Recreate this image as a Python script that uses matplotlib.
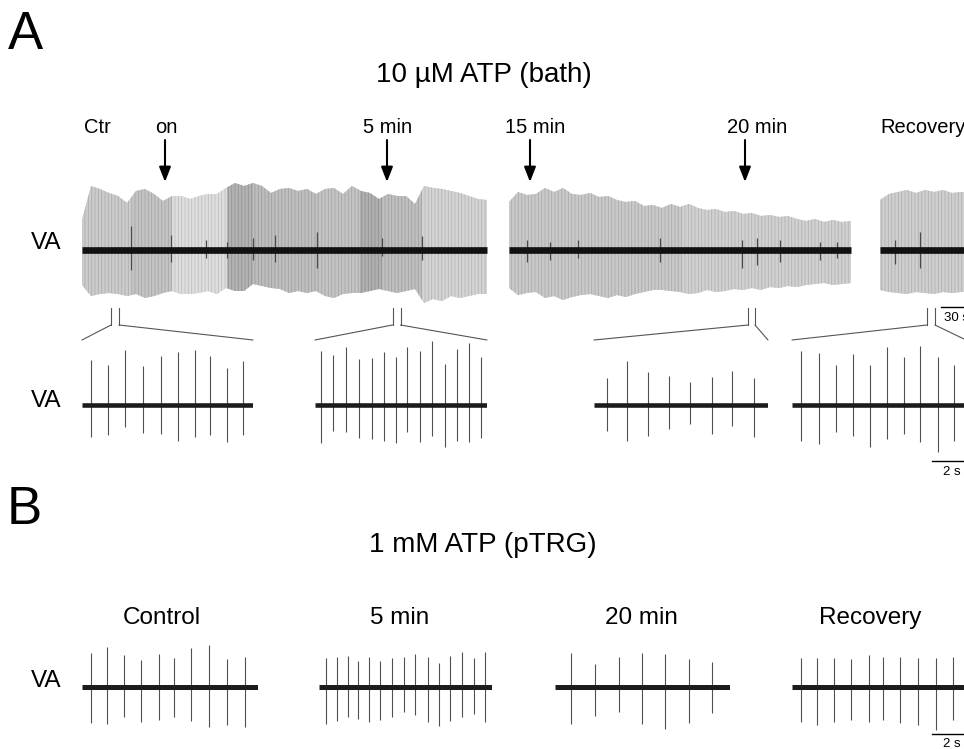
import numpy as np
import matplotlib
matplotlib.use("Agg")
import matplotlib.pyplot as plt
from matplotlib.patches import ConnectionPatch, Polygon

plt.rcParams['font.family'] = ['Liberation Sans', 'DejaVu Sans']
plt.rcParams['hatch.linewidth'] = 0.6

# ---------------------------------------------------------------- data
# Panel A, long recording: envelope of VA nerve activity (a.u.), sampled every 9 s
env_dt = 9.0
seg_t0 = [0, 427, 798]
seg1_up = [30, 64, 61, 57, 54, 47, 59, 61, 56, 49, 54, 54, 51, 54, 56, 56, 62, 67, 64, 67,
           64, 57, 61, 62, 59, 61, 56, 61, 62, 56, 64, 59, 57, 51, 56, 54, 54, 46, 64, 62,
           61, 59, 57, 54, 51, 50]
seg1_dn = [35, 46, 44, 43, 44, 46, 44, 48, 46, 43, 41, 44, 44, 43, 41, 44, 38, 41, 41, 34,
           36, 38, 39, 43, 41, 43, 41, 46, 48, 44, 43, 43, 41, 39, 41, 43, 41, 39, 53, 49,
           51, 46, 48, 46, 44, 44]
seg2_up = [48, 58, 55, 56, 62, 58, 62, 56, 55, 57, 53, 54, 50, 48, 49, 44, 45, 42, 46, 43,
           46, 42, 40, 41, 38, 39, 36, 37, 34, 35, 33, 34, 31, 29, 31, 28, 30, 28, 29]
seg2_dn = [38, 45, 43, 42, 48, 46, 50, 47, 45, 44, 46, 48, 45, 47, 44, 42, 40, 40, 41, 42,
           44, 43, 40, 42, 41, 39, 40, 38, 40, 37, 38, 36, 37, 35, 34, 33, 35, 34, 33]
seg3_up = [50, 56, 58, 60, 57, 60, 58, 60, 57, 58, 58, 58]
seg3_dn = [40, 42, 43, 44, 42, 43, 44, 42, 43, 42, 42, 42]

# burst boundaries (s) and grey level of the overlapping spikes within each burst
seg1_bursts = [0, 50, 90, 145, 171, 193, 236, 278, 300, 340, 405]
seg1_shade = [0.80, 0.77, 0.87, 0.70, 0.74, 0.75, 0.77, 0.69, 0.75, 0.83]
seg2_bursts = [427, 600, 772]
seg2_shade = [0.79, 0.82]
seg3_bursts = [798, 900]
seg3_shade = [0.81]

# darker large units in the long recording: time (s), up, down
dark1_t = [49, 89, 124, 145, 171, 193, 235, 300, 340]
dark1_up = [24, 15, 10, 8, 12, 15, 18, 12, 14]
dark1_dn = [20, 12, 8, 8, 10, 12, 18, 6, 10]
dark2_t = [445, 468, 496, 578, 660, 675, 698, 738, 755]
dark2_up = [10, 8, 10, 12, 10, 12, 10, 8, 8]
dark2_dn = [12, 10, 8, 12, 18, 15, 12, 10, 8]
dark3_t = [813, 838]
dark3_up = [10, 18]
dark3_dn = [14, 18]

event_t = [83, 305, 448, 663]
event_lab = ["on", "5 min", "15 min", "20 min"]
event_lab_t = [84, 306, 453, 675]
zoom_win = [(29, 37), (310.5, 318.5), (666, 673), (845, 853)]

# Panel A, expanded sweeps: spike time (s), upward and downward amplitude
a_dur = [8.55, 8.6, 8.7, 8.7]
a1_t = [0.43, 1.28, 2.15, 3.07, 3.94, 4.82, 5.65, 6.42, 7.25, 8.07]
a1_up = [45, 40, 55, 39, 49, 53, 55, 49, 37, 44]
a1_dn = [32, 30, 22, 28, 29, 36, 32, 30, 37, 30]
a2_t = [0.29, 0.92, 1.57, 2.22, 2.84, 3.45, 4.04, 4.62, 5.25, 5.85, 6.5, 7.09, 7.7, 8.29]
a2_up = [54, 50, 58, 46, 47, 53, 48, 58, 54, 64, 41, 56, 62, 48]
a2_dn = [38, 26, 27, 33, 34, 36, 38, 27, 37, 31, 42, 36, 37, 33]
a3_t = [0.67, 1.67, 2.69, 3.74, 4.82, 5.89, 6.92, 7.99]
a3_up = [27, 44, 33, 29, 23, 28, 34, 27]
a3_dn = [26, 36, 31, 24, 19, 29, 21, 32]
a4_t = [0.47, 1.34, 2.19, 3.04, 3.9, 4.74, 5.6, 6.42, 7.32, 8.12]
a4_up = [54, 52, 40, 51, 40, 58, 48, 59, 48, 40]
a4_dn = [36, 39, 27, 31, 42, 34, 29, 37, 47, 36]

# Panel B sweeps
b_labels = ["Control", "5 min", "20 min", "Recovery"]
b_dur = [8.8, 8.65, 8.75, 8.8]
b1_t = [0.44, 1.27, 2.12, 2.97, 3.84, 4.6, 5.44, 6.37, 7.25, 8.14]
b1_up = [34, 40, 32, 27, 33, 29, 39, 42, 28, 30]
b1_dn = [36, 37, 30, 35, 33, 30, 34, 40, 38, 40]
b2_t = [0.35, 0.89, 1.44, 1.95, 2.5, 3.05, 3.65, 4.27, 4.8, 5.44, 6.0, 6.55, 7.14, 7.75, 8.3]
b2_up = [29, 30, 31, 26, 30, 26, 29, 30, 33, 30, 24, 31, 35, 29, 35]
b2_dn = [37, 34, 30, 32, 35, 33, 30, 25, 28, 35, 39, 34, 30, 27, 35]
b3_t = [0.8, 2.0, 3.2, 4.34, 5.5, 6.7, 7.85]
b3_up = [34, 23, 30, 34, 33, 28, 25]
b3_dn = [37, 29, 25, 37, 42, 36, 26]
b4_t = [0.44, 1.27, 2.1, 2.97, 3.84, 4.57, 5.4, 6.32, 7.2, 8.07]
b4_up = [29, 29, 29, 28, 32, 30, 30, 29, 29, 30]
b4_dn = [35, 38, 35, 33, 35, 33, 36, 38, 43, 33]

# ---------------------------------------------------------------- layout
W, H = 964, 749
fig = plt.figure(figsize=(W / 100, H / 100), dpi=100)


def add_ax(x0, y0, x1, y1):
    ax = fig.add_axes([x0 / W, 1 - y1 / H, (x1 - x0) / W, (y1 - y0) / H])
    ax.set_axis_off()
    return ax


def ftext(x, y, s, size, ha="center", va="center", **kw):
    fig.text(x / W, 1 - y / H, s, fontsize=size, ha=ha, va=va, **kw)


# long recording axes: 1 px = 1 s
ax_long = add_ax(0, 175, 964, 310)
ax_long.set_xlim(-82, 882)
ax_long.set_ylim(-60, 75)


def draw_long(ax, t0, up, dn, bounds, shades, dt_, dup, ddn):
    up = np.asarray(up, float)
    dn = np.asarray(dn, float)
    t = t0 + env_dt * np.arange(len(up))
    verts = np.concatenate([np.column_stack([t, up]),
                            np.column_stack([t[::-1], -dn[::-1]])])
    clip = Polygon(verts, closed=True, transform=ax.transData,
                   facecolor="none", edgecolor="none")
    ax.fill_between(t, up, -dn, facecolor="#dadada", edgecolor="none", lw=0)
    for a, b, s in zip(bounds[:-1], bounds[1:], shades):
        sp = ax.axvspan(a, b, facecolor=str(s), edgecolor=str(max(s - 0.12, 0)),
                        hatch="|" * 5, lw=0)
        sp.set_clip_path(clip)
    ax.vlines(dt_, -np.asarray(ddn), dup, color="#4a4a4a", lw=0.9)
    ax.plot([t[0], t[-1]], [0, 0], color="#111111", lw=4.8,
            solid_capstyle="butt")


draw_long(ax_long, seg_t0[0], seg1_up, seg1_dn, seg1_bursts, seg1_shade,
          dark1_t, dark1_up, dark1_dn)
draw_long(ax_long, seg_t0[1], seg2_up, seg2_dn, seg2_bursts, seg2_shade,
          dark2_t, dark2_up, dark2_dn)
draw_long(ax_long, seg_t0[2], seg3_up, seg3_dn, seg3_bursts, seg3_shade,
          dark3_t, dark3_up, dark3_dn)

# event arrows and labels
for t in event_t:
    ax_long.annotate("", xy=(t, 68), xytext=(t, 110), annotation_clip=False,
                     arrowprops=dict(arrowstyle="-|>,head_length=0.9,head_width=0.35",
                                     mutation_scale=10, color="k", lw=1.5,
                                     shrinkA=0, shrinkB=0))
for t, s in zip(event_lab_t, event_lab):
    ax_long.text(t, 123, s, fontsize=14.5, ha="center", va="center", clip_on=False)
ax_long.text(15, 123, "Ctr", fontsize=14.5, ha="center", va="center", clip_on=False)
ax_long.text(798, 123, "Recovery", fontsize=14.5, ha="left", va="center", clip_on=False)

# 30 s scale bar
ax_long.plot([859, 889], [-57, -57], color="k", lw=1.0, clip_on=False)
ax_long.text(874, -68, "30 s", fontsize=9.5, ha="center", va="center", clip_on=False)


def draw_sub(ax, dur, st, su, sd, base_lw):
    ax.vlines(st, -np.asarray(sd), su, color="#505050", lw=0.8)
    ax.plot([0, dur], [0, 0], color="#1c1c1c", lw=base_lw, solid_capstyle="butt")


# expanded sweeps of panel A: 20 px = 1 s
a_x0 = [82, 315, 594, 792]
a_sets = [(a1_t, a1_up, a1_dn), (a2_t, a2_up, a2_dn),
          (a3_t, a3_up, a3_dn), (a4_t, a4_up, a4_dn)]
a_axes = []
for x0, dur, (st, su, sd) in zip(a_x0, a_dur, a_sets):
    ax = add_ax(x0, 340, x0 + dur * 20, 470)
    ax.set_xlim(0, dur)
    ax.set_ylim(-65, 65)
    draw_sub(ax, dur, st, su, sd, 3.3)
    a_axes.append(ax)

# zoom connector lines
for (ts, te), ax in zip(zoom_win, a_axes):
    for t, fx in ((ts, 0), (te, 1)):
        ax_long.plot([t, t], [-58, -75], color="#555555", lw=0.8, clip_on=False)
        con = ConnectionPatch(xyA=(t, -75), coordsA=ax_long.transData,
                              xyB=(fx, 1), coordsB=ax.transAxes,
                              color="#555555", lw=0.8)
        fig.add_artist(con)

ax = a_axes[3]
ax.plot([7.0, 9.0], [-56, -56], color="k", lw=1.0, clip_on=False)
ax.text(8.0, -67, "2 s", fontsize=9.5, ha="center", va="center", clip_on=False)

# panel B sweeps
b_x0 = [82, 319, 555, 792]
b_sets = [(b1_t, b1_up, b1_dn), (b2_t, b2_up, b2_dn),
          (b3_t, b3_up, b3_dn), (b4_t, b4_up, b4_dn)]
b_axes = []
for x0, dur, (st, su, sd) in zip(b_x0, b_dur, b_sets):
    ax = add_ax(x0, 640, x0 + dur * 20, 740)
    ax.set_xlim(0, dur)
    ax.set_ylim(-53, 47)
    draw_sub(ax, dur, st, su, sd, 3.6)
    b_axes.append(ax)
ax = b_axes[3]
ax.plot([7.0, 9.0], [-47, -47], color="k", lw=1.0, clip_on=False)
ax.text(8.0, -57, "2 s", fontsize=9.5, ha="center", va="center", clip_on=False)

for x, s in zip([162, 400, 641, 870], b_labels):
    ftext(x, 618, s, 17.5)

# texts
ftext(25, 35, "A", 38)
ftext(24, 510, "B", 38)
ftext(484, 75, "10 µM ATP (bath)", 20)
ftext(483, 545, "1 mM ATP (pTRG)", 20)
for y in (243, 401, 681):
    ftext(46.5, y, "VA", 17.5)

fig.savefig("out.png", dpi=100)
